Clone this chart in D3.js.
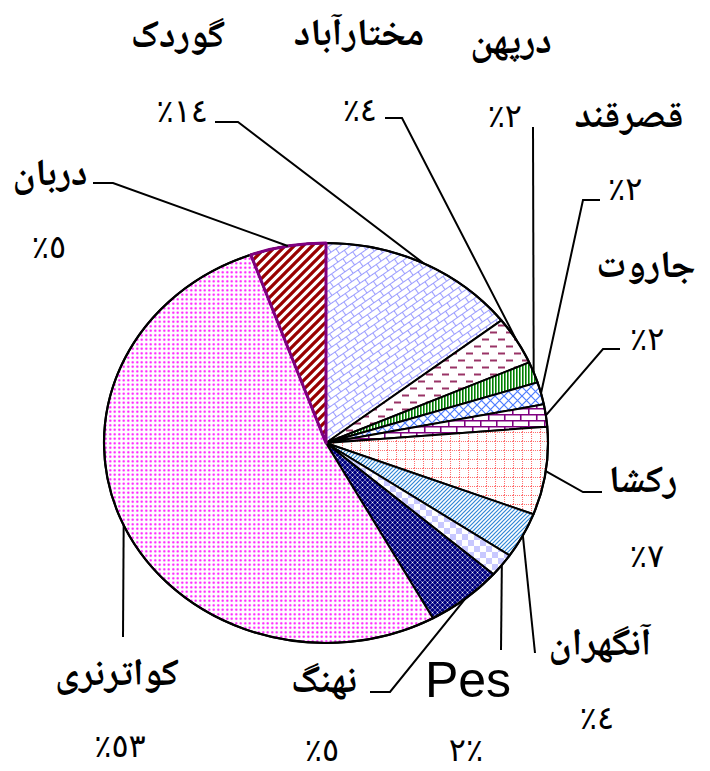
<!DOCTYPE html>
<html>
<head>
<meta charset="utf-8">
<script src="https://cdn.jsdelivr.net/npm/d3@7"></script>
<style>
html,body{margin:0;padding:0;background:#fff;}
svg{display:block;}
.ar{font-family:"Noto Naskh Arabic","Noto Sans Arabic","DejaVu Sans",serif;fill:#000;font-weight:bold;}
.pct{font-family:"DejaVu Sans",serif;fill:#000;direction:ltr;unicode-bidi:bidi-override;}
</style>
</head>
<body>
<svg id="chart" width="710" height="771"></svg>
<script>
// ---- data ----
const categories = ["گوردک","مختارآباد","درپهن","قصرقند","جاروت","رکشا","آنگهران","Pes","نهنگ","کواترنری","دربان"];
const values     = [14.5, 3.9, 1.7, 1.8, 1.8, 7.1, 3.7, 1.9, 5.6, 52.5, 5.5];
const pctLabels  = ["٪١٤","٪٤","٪٢","٪٢","٪٢","٪٧","٪٤","٢٪","٪٥","٪٥٣","٪٥"];

// ---- layout (positions only) ----
const layout = [
  {name:[178,47,"middle"], pct:[208,122,"end"],  leader:[[238,122],[215,122]]},
  {name:[359,45,"middle"], pct:[377,121,"end"],  leader:[[402,118],[385,118]]},
  {name:[511,53,"middle"], pct:[522,127,"end"],  leader:[[533,127]]},
  {name:[629,127,"middle"],pct:[608,200,"start"],leader:[[583,200],[600,200]]},
  {name:[646,277,"middle"],pct:[630,350,"start"],leader:[[603,349],[620,349]]},
  {name:[643,492,"middle"],pct:[647,567,"middle"],leader:[[583,492],[602,492]]},
  {name:[600,655,"middle"],pct:[597,729,"middle"],leader:[[535,653]]},
  {name:[468,697,"middle"],pct:[466,761,"middle"],leader:[[501,650]]},
  {name:[324,692,"middle"],pct:[322,761,"middle"],leader:[[390,692],[370,692]]},
  {name:[117,685,"middle"],pct:[120,757,"middle"],leader:[[123,637]]},
  {name:[50,185,"middle"], pct:[49,258,"middle"], leader:[[113,183],[93,183]]}
];

const svg = d3.select("#chart");
const defs = svg.append("defs");
const cx = 326, cy = 443, rx = 222, ry = 200;

function pat(id, w, h, build, transform){
  const p = defs.append("pattern").attr("id", id).attr("patternUnits","userSpaceOnUse")
    .attr("width", w).attr("height", h);
  if (transform) p.attr("patternTransform", transform);
  p.append("rect").attr("width", w).attr("height", h).attr("fill", "#fff");
  build(p);
}
// gordak: diagonal brick
pat("p0", 12, 12, p => {
  p.append("path").attr("d","M0,0.5H12M0,6.5H12M0.5,0V6.5M6.5,6.5V12")
   .attr("stroke","#9a9cff").attr("stroke-width",1.1).attr("fill","none");
}, "rotate(-35)");
// mokhtarabad: dashed horizontal
pat("p1", 16, 14, p => {
  p.append("path").attr("d","M2,3.5H9M10,10.5H16M0,10.5H1")
   .attr("stroke","#993366").attr("stroke-width",1.8).attr("fill","none");
});
// darpahan: narrow vertical green
pat("p2", 3, 3, p => {
  p.append("rect").attr("x",0).attr("width",1.6).attr("height",3).attr("fill","#008000");
});
// qasrqand: diagonal cross
pat("p3", 9, 9, p => {
  p.append("path").attr("d","M0,0L9,9M9,0L0,9")
   .attr("stroke","#4d7cff").attr("stroke-width",1.2).attr("fill","none");
});
// jarut: horizontal brick purple
pat("p4", 16, 12, p => {
  p.append("path").attr("d","M0,0.75H16M0,6.75H16M0.75,0.75V6.75M8.75,6.75V12")
   .attr("stroke","#800080").attr("stroke-width",1.6).attr("fill","none");
});
// rakesha: dotted grid salmon
pat("p5", 9, 9, p => {
  p.append("path").attr("d","M0,0.5H9M0.5,0V9")
   .attr("stroke","#ff7070").attr("stroke-width",1.1).attr("stroke-dasharray","1,1").attr("fill","none");
});
// angohran: diagonal blue lines
pat("p6", 4, 4, p => {
  p.append("path").attr("d","M-1,5L5,-1M-1,1L1,-1M3,5L5,3")
   .attr("stroke","#2f86d6").attr("stroke-width",1.2).attr("fill","none");
});
// pes: checkerboard lavender
pat("p7", 12, 12, p => {
  p.append("rect").attr("x",0).attr("y",0).attr("width",6).attr("height",6).attr("fill","#c8c8ff");
  p.append("rect").attr("x",6).attr("y",6).attr("width",6).attr("height",6).attr("fill","#c8c8ff");
});
// nahang: navy with white dotted diamond
pat("p8", 5, 5, p => {
  p.append("rect").attr("width",5).attr("height",5).attr("fill","#000080");
  p.append("path").attr("d","M0,0L5,5M5,0L0,5")
   .attr("stroke","#ffffff").attr("stroke-width",0.6).attr("opacity",0.7).attr("fill","none");
  p.append("circle").attr("cx",2.5).attr("cy",2.5).attr("r",0.7).attr("fill","#fff");
});
// kuwatarzi: magenta dots
pat("p9", 4.5, 4.5, p => {
  p.append("circle").attr("cx",2.25).attr("cy",2.25).attr("r",1.1).attr("fill","#ff00ff");
});
// darban: wide upward diagonal dark red
pat("p10", 9, 9, p => {
  p.append("path").attr("d","M-2,11L11,-2M-2,2L2,-2M7,11L11,7")
   .attr("stroke","#990000").attr("stroke-width",3.3).attr("fill","none");
});

const pie = d3.pie().sort(null).value(d => d).startAngle(0).endAngle(2*Math.PI);
const arcs = pie(values);
const pt = a => [cx + rx*Math.sin(a), cy - ry*Math.cos(a)];

function slicePath(d){
  const p0 = pt(d.startAngle), p1 = pt(d.endAngle);
  const large = (d.endAngle - d.startAngle) > Math.PI ? 1 : 0;
  return `M${cx},${cy}L${p0[0]},${p0[1]}A${rx},${ry} 0 ${large} 1 ${p1[0]},${p1[1]}Z`;
}

const g = svg.append("g");
g.selectAll("path.slice").data(arcs).join("path")
  .attr("class","slice")
  .attr("d", slicePath)
  .attr("fill", (d,i) => `url(#p${i})`)
  .attr("stroke", "#000")
  .attr("stroke-width", 2)
  .attr("stroke-linejoin","round");

// outer outline
svg.append("ellipse").attr("cx",cx).attr("cy",cy).attr("rx",rx).attr("ry",ry)
  .attr("fill","none").attr("stroke","#000").attr("stroke-width",2.2);

// darban purple border on top
const last = arcs.length - 1;
svg.append("path").attr("d", slicePath(arcs[last]))
  .attr("fill","none").attr("stroke","#800080").attr("stroke-width",3).attr("stroke-linejoin","round");

// leader lines
const line = d3.line();
arcs.forEach((d,i) => {
  const mid = (d.startAngle + d.endAngle)/2;
  const pts = [pt(mid)].concat(layout[i].leader);
  svg.append("path").attr("d", line(pts)).attr("fill","none")
    .attr("stroke","#000").attr("stroke-width",2);
});

// names
categories.forEach((c,i) => {
  const L = layout[i];
  const isLatin = /^[A-Za-z]+$/.test(c);
  svg.append("text")
    .attr("class", isLatin ? "" : "ar")
    .attr("x", L.name[0]).attr("y", L.name[1])
    .attr("text-anchor", L.name[2])
    .style("font-family", isLatin ? "'Liberation Sans', Arial, sans-serif" : null)
    .style("font-size", isLatin ? "50px" : "38px")
    .text(c);
});
// percentages
pctLabels.forEach((t,i) => {
  const L = layout[i];
  svg.append("text").attr("class","pct")
    .attr("x", L.pct[0]).attr("y", L.pct[1])
    .attr("text-anchor", L.pct[2])
    .style("font-size","32px")
    .text(t);
});
</script>
</body>
</html>
